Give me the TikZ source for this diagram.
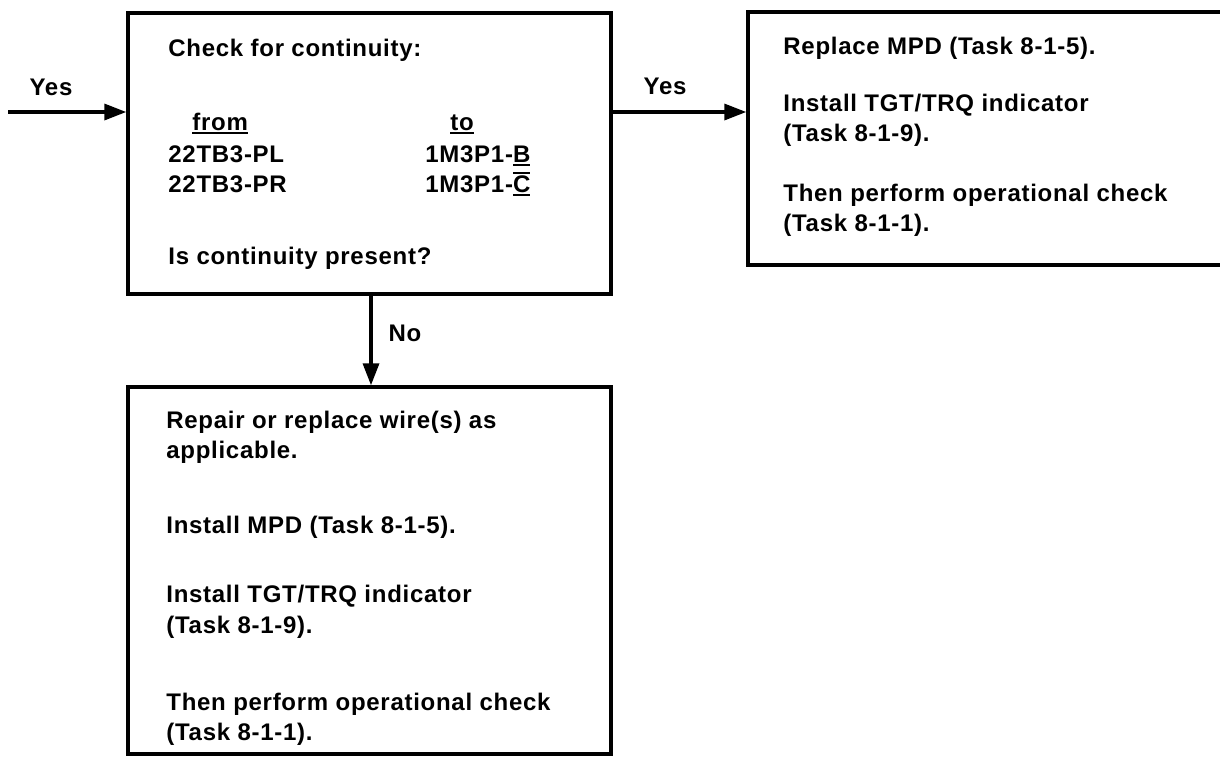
\documentclass[tikz,border=0pt]{standalone}
\usepackage{fontspec}
\setmainfont{Liberation Sans}[LetterSpace=3]
\usetikzlibrary{arrows.meta}
\newcommand\ulx[1]{\vtop{\hbox{#1}\kern0.9pt\hrule height1.1pt}}
\newcommand\olx[1]{\vbox{\hrule height1pt\kern0.7pt\hbox{#1}}}
\begin{document}
\begin{tikzpicture}[x=0.5pt,y=-0.5pt,
  box/.style={draw, line width=1.7pt, inner sep=0pt},
  txt/.style={anchor=base west, inner sep=0pt, font=\bfseries\fontsize{12}{15}\selectfont},
  lbl/.style={inner sep=0pt, font=\bfseries\fontsize{12}{15}\selectfont},
  arr/.style={line width=1.7pt, -{Triangle[length=11pt,width=8pt]}}]
\useasboundingbox (0,0) rectangle (1220,757);
\clip (0,0) rectangle (1220,757);
% boxes
\node[box, minimum width=241.5pt, minimum height=140.5pt] (b1) at (369.5,153.5) {};
\node[box, minimum width=246pt, minimum height=126.5pt] (b2) at (994,138.5) {};
\node[box, minimum width=241.5pt, minimum height=183.5pt] (b3) at (369.5,570.5) {};
% box 1 text
\node[txt] (t11) at (168,56) {Check for continuity:};
\node[txt] (t12) at (192,130) {\ulx{from}};
\node[txt] (t13) at (450,130) {\ulx{to}};
\node[txt] (t14) at (168,162) {22TB3-PL};
\node[txt] (t15) at (168,192) {22TB3-PR};
\node[txt] (t16) at (425,162) {1M3P1-\ulx{B}};
\node[txt] (t17) at (425,192) {1M3P1-\ulx{\olx{C}}};
\node[txt] (t18) at (168,264) {Is continuity present?};
% box 2 text
\node[txt] (t21) at (783,54) {Replace MPD (Task 8-1-5).};
\node[txt] (t22) at (783,111) {Install TGT/TRQ indicator};
\node[txt] (t23) at (783,141) {(Task 8-1-9).};
\node[txt] (t24) at (783,201) {Then perform operational check};
\node[txt] (t25) at (783,231) {(Task 8-1-1).};
% box 3 text
\node[txt] (t31) at (166,428) {Repair or replace wire(s) as};
\node[txt] (t32) at (166,458) {applicable.};
\node[txt] (t33) at (166,533) {Install MPD (Task 8-1-5).};
\node[txt] (t34) at (166,602) {Install TGT/TRQ indicator};
\node[txt] (t35) at (166,633) {(Task 8-1-9).};
\node[txt] (t36) at (166,710) {Then perform operational check};
\node[txt] (t37) at (166,740) {(Task 8-1-1).};
% connectors
\coordinate (inL) at (8,112);
\coordinate (yy) at (0,112);
\coordinate (xx) at (371,0);
\draw[arr] (inL) -- (inL -| b1.west);
\draw[arr] (yy -| b1.east) -- (yy -| b2.west);
\draw[arr] (xx |- b1.south) -- (xx |- b3.north);
% labels
\node[lbl] (y1) at (51,87) {Yes};
\node[lbl] (y2) at (665,86) {Yes};
\node[lbl] (n1) at (405,333) {No};
\end{tikzpicture}
\end{document}
